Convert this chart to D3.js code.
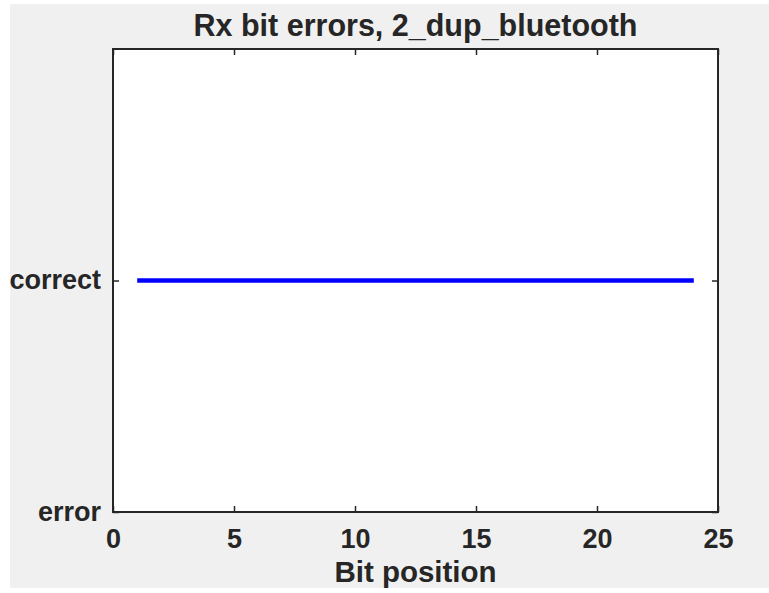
<!DOCTYPE html>
<html>
<head>
<meta charset="utf-8">
<script src="https://cdn.jsdelivr.net/npm/d3@7"></script>
<style>
  html, body { margin: 0; padding: 0; background: #ffffff; }
  text { font-family: "Liberation Sans", Arial, Helvetica, sans-serif; font-weight: bold; fill: #262626; }
</style>
</head>
<body>
<div id="chart"></div>
<script>
// data
const bitPositions = [1, 2, 3, 4, 5, 6, 7, 8, 9, 10, 11, 12, 13, 14, 15, 16, 17, 18, 19, 20, 21, 22, 23, 24];
const bitStatus = [1, 1, 1, 1, 1, 1, 1, 1, 1, 1, 1, 1, 1, 1, 1, 1, 1, 1, 1, 1, 1, 1, 1, 1];
const xTicks = [0, 5, 10, 15, 20, 25];
const yTicks = [0, 1];
const yTickLabels = ["error", "correct"];
const title = "Rx bit errors, 2_dup_bluetooth";
const xLabel = "Bit position";

const W = 769, H = 593;
const margin = { top: 49, right: 51, bottom: 81, left: 113 };
const width = W - margin.left - margin.right;
const height = H - margin.top - margin.bottom;

const svg = d3.select("#chart")
  .append("svg")
  .attr("width", W)
  .attr("height", H);

// figure background
svg.append("rect")
  .attr("x", 10).attr("y", 4)
  .attr("width", W - 10).attr("height", 584)
  .attr("fill", "#f0f0f0");

const g = svg.append("g")
  .attr("transform", `translate(${margin.left},${margin.top})`);

// plot area
g.append("rect")
  .attr("width", width).attr("height", height)
  .attr("fill", "#ffffff");

const x = d3.scaleLinear().domain([0, 25]).range([0, width]);
const y = d3.scaleLinear().domain([0, 2]).range([height, 0]);

const axisColor = "#262626";

// bottom axis
const xAxis = g.append("g")
  .attr("transform", `translate(0,${height})`)
  .call(d3.axisBottom(x).tickValues(xTicks).tickSize(-6));
xAxis.select(".domain").remove();
xAxis.selectAll("line").attr("stroke", axisColor).attr("stroke-width", 1.5);
xAxis.selectAll("text").attr("font-size", "27px").attr("dy", "0.72em").attr("y", 17);

// top ticks
const xTop = g.append("g")
  .call(d3.axisTop(x).tickValues(xTicks).tickSize(-6).tickFormat(""));
xTop.select(".domain").remove();
xTop.selectAll("line").attr("stroke", axisColor).attr("stroke-width", 1.5);

// left axis
const yAxis = g.append("g")
  .call(d3.axisLeft(y).tickValues(yTicks).tickSize(-6)
    .tickFormat((d, i) => yTickLabels[i]));
yAxis.select(".domain").remove();
yAxis.selectAll("line").attr("stroke", axisColor).attr("stroke-width", 1.5);
yAxis.selectAll("text").attr("font-size", "27px").attr("x", -12).attr("dy", "0.3em");

// right ticks
const yRight = g.append("g")
  .attr("transform", `translate(${width},0)`)
  .call(d3.axisRight(y).tickValues(yTicks).tickSize(-6).tickFormat(""));
yRight.select(".domain").remove();
yRight.selectAll("line").attr("stroke", axisColor).attr("stroke-width", 1.5);

// drop d3's default font attrs so the css font applies
g.selectAll(".tick text").attr("fill", "#262626");
[xAxis, xTop, yAxis, yRight].forEach(a => a.attr("font-family", null).attr("font-size", null));

// data line
const line = d3.line()
  .x((d, i) => x(bitPositions[i]))
  .y(d => y(d));

g.append("path")
  .datum(bitStatus)
  .attr("fill", "none")
  .attr("stroke", "#0000ff")
  .attr("stroke-width", 4.5)
  .attr("d", line);

// box
g.append("rect")
  .attr("width", width).attr("height", height)
  .attr("fill", "none")
  .attr("stroke", axisColor)
  .attr("stroke-width", 2);

// title
svg.append("text")
  .attr("x", margin.left + width / 2)
  .attr("y", 36)
  .attr("text-anchor", "middle")
  .attr("font-size", "30.5px")
  .text(title);

// x label
svg.append("text")
  .attr("x", margin.left + width / 2)
  .attr("y", 582)
  .attr("text-anchor", "middle")
  .attr("font-size", "29.5px")
  .text(xLabel);
</script>
</body>
</html>
